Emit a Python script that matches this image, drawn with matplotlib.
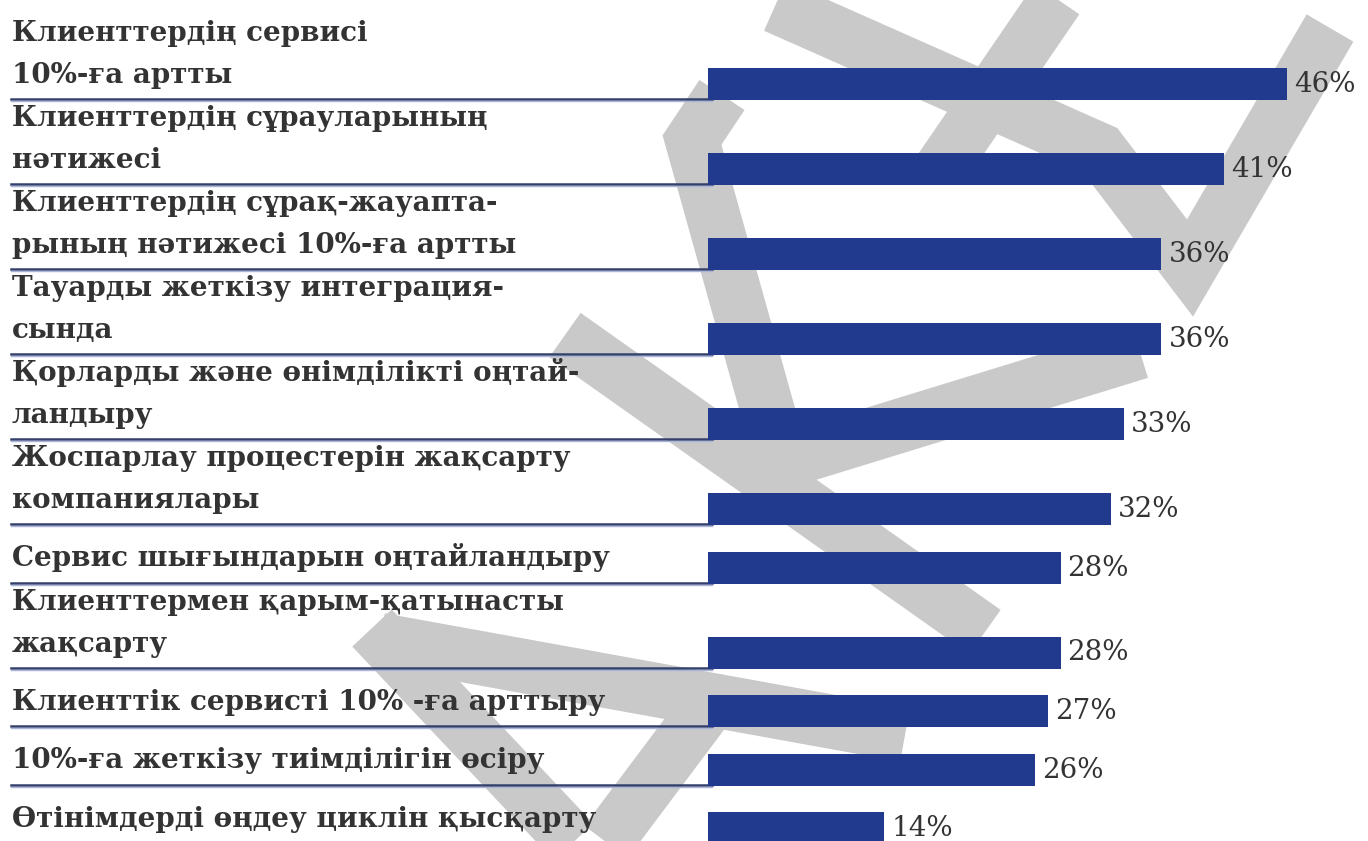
import numpy as np
import matplotlib.pyplot as plt
from matplotlib.lines import Line2D
from matplotlib.transforms import blended_transform_factory


# Data
labels = [
    "Клиенттердің сервисі\n10%-ға артты",
    "Клиенттердің сұрауларының\nнәтижесі",
    "Клиенттердің сұрақ-жауапта-\nрының нәтижесі 10%-ға артты",
    "Тауарды жеткізу интеграция-\nсында",
    "Қорларды және өнімділікті оңтай-\nландыру",
    "Жоспарлау процестерін жақсарту\nкомпаниялары",
    "Сервис шығындарын оңтайландыру",
    "Клиенттермен қарым-қатынасты\nжақсарту",
    "Клиенттік сервисті 10% -ға арттыру",
    "10%-ға жеткізу тиімділігін өсіру",
    "Өтінімдерді өңдеу циклін қысқарту",
]
values = [46, 41, 36, 36, 33, 32, 28, 28, 27, 26, 14]

bar_color = "#213a8e"
text_color = "#333333"
rule_color = "#34406c"
font = "DejaVu Serif"

W, H = 1368, 841
fig = plt.figure(figsize=(W / 100, H / 100), dpi=100)
fig.patch.set_facecolor("white")

# gray watermark strokes (background decoration, pixel coords)
bg = fig.add_axes([0, 0, 1, 1], zorder=0)
bg.set_xlim(0, W)
bg.set_ylim(H, 0)
bg.axis("off")
strokes = [
    [(775, 6), (1100, 150), (1190, 268), (1330, 28)],
    [(1070, -20), (940, 170)],
    [(722, 95), (692, 140), (782, 462), (1140, 352)],
    [(565, 335), (985, 632)],
    [(372, 628), (600, 870)],
    [(380, 640), (905, 735)],
    [(585, 870), (720, 690)],
]
for s in strokes:
    xs, ys = zip(*s)
    bg.plot(xs, ys, color="#c9c9c9", lw=39, solid_capstyle="butt",
            solid_joinstyle="miter")

# bar area
ax = fig.add_axes([708 / W, 0, (W - 708) / W, 1], zorder=1)
ax.set_xlim(0, 52.4)
ax.set_ylim(H, 0)
ax.axis("off")

# each row is as tall as its label
n_lines = [lab.count("\n") + 1 for lab in labels]
row_h = [85 if n == 2 else 58.5 for n in n_lines]
bottoms = 15 + np.cumsum(row_h)

ax.barh(bottoms, values, height=-32, align="edge", color=bar_color, zorder=3)

trans = blended_transform_factory(fig.transFigure, ax.transData)
for lab, b, v in zip(labels, bottoms, values):
    parts = lab.split("\n")
    for i, part in enumerate(parts):
        y = b - 17 - 42 * (len(parts) - 1 - i)
        ax.text(12 / W, y, part, transform=trans, family=font, fontsize=20,
                fontweight="bold", color=text_color, va="baseline", ha="left",
                clip_on=False)
    ax.add_line(Line2D([11 / W, 712 / W], [b - 1, b - 1], transform=trans,
                       color=rule_color, lw=1.8, clip_on=False, zorder=2))
    ax.add_line(Line2D([11 / W, 712 / W], [b + 1.3, b + 1.3], transform=trans,
                       color="#a9b6d8", lw=1.0, clip_on=False, zorder=2))
    ax.annotate(f"{v}%", (v, b - 8), xytext=(5, 0), textcoords="offset points",
                family=font, fontsize=20, color=text_color, va="baseline",
                ha="left", annotation_clip=False)

plt.savefig("out.png", dpi=100, facecolor="white")
